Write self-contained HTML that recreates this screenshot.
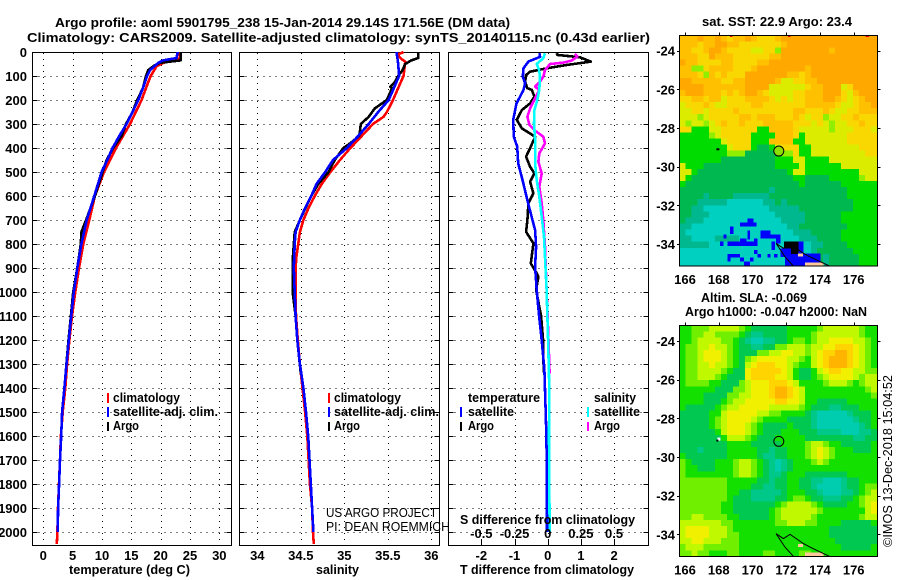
<!DOCTYPE html>
<html lang="en">
<head>
<meta charset="utf-8">
<title>Argo profile</title>
<style>
html,body{margin:0;padding:0;background:#fff;}
svg{display:block;}
text{font-family:"Liberation Sans",sans-serif;font-size:13px;fill:#000;font-weight:bold;}
.thin{font-weight:normal;}
</style>
</head>
<body>
<svg id="chart" xmlns="http://www.w3.org/2000/svg" width="900" height="580" viewBox="0 0 900 580">
<rect x="0" y="0" width="900" height="580" fill="#fff"/>
<text x="55" y="27" textLength="455" lengthAdjust="spacingAndGlyphs">Argo profile: aoml 5901795_238 15-Jan-2014 29.14S 171.56E (DM data)</text>
<text x="27" y="42" textLength="623" lengthAdjust="spacingAndGlyphs">Climatology: CARS2009. Satellite-adjusted climatology: synTS_20140115.nc (0.43d earlier)</text>

<g id="series-layer"></g>
<g id="map-layer"></g>

<text x="69" y="574" textLength="121" lengthAdjust="spacingAndGlyphs">temperature (deg C)</text>
<text x="316" y="574" textLength="43" lengthAdjust="spacingAndGlyphs">salinity</text>
<text x="460" y="574" textLength="174" lengthAdjust="spacingAndGlyphs">T difference from climatology</text>
<text x="460" y="524" textLength="175" lengthAdjust="spacingAndGlyphs">S difference from climatology</text>

<g>
<rect x="107" y="393" width="2" height="10" fill="#f00"/>
<text x="113" y="402" textLength="67" lengthAdjust="spacingAndGlyphs">climatology</text>
<rect x="107" y="407" width="2" height="10" fill="#00f"/>
<text x="113" y="416" textLength="105" lengthAdjust="spacingAndGlyphs">satellite-adj. clim.</text>
<rect x="107" y="422" width="2" height="9" fill="#000"/>
<text x="113" y="430" textLength="26" lengthAdjust="spacingAndGlyphs">Argo</text>
</g>
<g>
<rect x="328" y="393" width="2" height="10" fill="#f00"/>
<text x="334" y="402" textLength="67" lengthAdjust="spacingAndGlyphs">climatology</text>
<rect x="328" y="407" width="2" height="10" fill="#00f"/>
<text x="334" y="416" textLength="105" lengthAdjust="spacingAndGlyphs">satellite-adj. clim.</text>
<rect x="328" y="422" width="2" height="9" fill="#000"/>
<text x="334" y="430" textLength="26" lengthAdjust="spacingAndGlyphs">Argo</text>
</g>
<g>
<text x="468" y="402" textLength="72" lengthAdjust="spacingAndGlyphs">temperature</text>
<rect x="460" y="407" width="2" height="10" fill="#00f"/>
<text x="468" y="416" textLength="46" lengthAdjust="spacingAndGlyphs">satellite</text>
<rect x="460" y="422" width="2" height="9" fill="#000"/>
<text x="468" y="430" textLength="26" lengthAdjust="spacingAndGlyphs">Argo</text>
<text x="594" y="402" textLength="42" lengthAdjust="spacingAndGlyphs">salinity</text>
<rect x="587" y="407" width="2" height="10" fill="#0ff"/>
<text x="594" y="416" textLength="46" lengthAdjust="spacingAndGlyphs">satellite</text>
<rect x="587" y="422" width="2" height="9" fill="#f0f"/>
<text x="594" y="430" textLength="26" lengthAdjust="spacingAndGlyphs">Argo</text>
</g>

<text class="thin" x="326" y="517" textLength="111" lengthAdjust="spacingAndGlyphs">US ARGO PROJECT</text>
<text class="thin" x="326" y="531" textLength="124" lengthAdjust="spacingAndGlyphs">PI: DEAN ROEMMICH</text>

<text x="702" y="26" textLength="150" lengthAdjust="spacingAndGlyphs">sat. SST: 22.9 Argo: 23.4</text>
<text x="701" y="302" textLength="106" lengthAdjust="spacingAndGlyphs">Altim. SLA: -0.069</text>
<text x="685" y="316" textLength="182" lengthAdjust="spacingAndGlyphs">Argo h1000: -0.047 h2000: NaN</text>
<text class="thin" transform="translate(892,547) rotate(-90)" textLength="172" lengthAdjust="spacingAndGlyphs">©IMOS 13-Dec-2018 15:04:52</text>
</svg>

<script>
// ---------- axis tick labels ----------
const depthTicks = [0,100,200,300,400,500,600,700,800,900,1000,1100,1200,1300,1400,1500,1600,1700,1800,1900,2000];
const tempTicks = [0,5,10,15,20,25,30];
const salTicks = ['34','34.5','35','35.5','36'];
const dTTicks = [-2,-1,0,1,2];
const dSTicks = ['-0.5','-0.25','0','0.25','0.5'];
const lonTicks = [166,168,170,172,174,176];
const latTicks = [-24,-26,-28,-30,-32,-34];

// ---------- temperature profiles ----------
const climTempDepth = [0,25,30,45,60,100,125,200,300,400,500,600,700,800,900,1000,1100,1200,1300,1400,1500,1600,1700,1800,1900,2000,2050];
const climTempValue = [23.3,23.3,23,20.45,19.3,18.3,17.9,16.76,14.77,12.39,10.34,8.8,7.84,6.82,6.08,5.45,4.9,4.45,4.05,3.75,3.3,3.0,2.84,2.67,2.5,2.4,2.3];
const satTempDepth = [0,25,35,45,60,75,100,150,200,250,300,350,400,450,500,600,700,800,900,1000,1100,1200,1300,1400,1500,1600,1700,1800,1900,2000];
const satTempValue = [22.9,22.7,20.4,19.6,18.9,18.2,17.7,17,16.2,15.2,14.2,12.95,11.8,10.9,9.94,8.7,7.4,6.5,5.8,5.2,4.75,4.35,3.95,3.6,3.2,3.05,2.85,2.7,2.52,2.45];
const argoTempDepth = [0,35,45,55,75,100,150,200,250,300,350,400,450,500,600,700,750,800,900,1000,1100,1200,1340];
const argoTempValue = [23.4,23.4,19.9,19,17.9,17.5,17,16,15.2,14.1,13.35,11.9,10.8,10.1,8.8,7.3,6.5,6.4,5.8,5.1,4.7,4.3,3.8];

// ---------- salinity profiles ----------
const climSalDepth = [0,10,20,30,40,75,100,150,200,250,270,300,350,400,450,500,550,600,650,700,750,800,850,900,1000,1100,1200,1300,1400,1500,1600,1700,1800,1900,2000,2050];
const climSalValue = [35.68,35.62,35.63,35.66,35.70,35.69,35.68,35.62,35.56,35.49,35.45,35.33,35.20,35.07,34.95,34.84,34.74,34.66,34.59,34.53,34.49,34.47,34.45,34.44,34.44,34.445,34.465,34.49,34.52,34.55,34.575,34.59,34.605,34.63,34.64,34.65];
const satSalDepth = [0,25,50,100,125,150,200,250,300,350,400,450,500,550,600,650,700,750,800,900,1000,1100,1200,1300,1400,1500,1600,1700,1800,1900,2000];
const satSalValue = [35.6,35.61,35.62,35.63,35.6,35.57,35.51,35.39,35.28,35.16,35.03,34.87,34.78,34.68,34.62,34.55,34.49,34.44,34.43,34.42,34.43,34.44,34.46,34.49,34.53,34.56,34.585,34.6,34.615,34.63,34.645];
const argoSalDepth = [0,25,35,50,75,100,125,145,150,200,235,270,300,330,350,380,400,450,500,550,600,700,750,850,900,1000,1100,1200,1340];
const argoSalValue = [35.85,35.85,35.77,35.70,35.67,35.62,35.58,35.53,35.55,35.49,35.35,35.28,35.19,35.18,35.17,35.07,34.99,34.89,34.82,34.70,34.62,34.49,34.43,34.41,34.406,34.406,34.44,34.46,34.5];

// ---------- differences from climatology ----------
const satDTDepth = [5,20,40,68,103,130,158,186,214,249,283,353,394,464,533,630,742,811,894,992,1100,1200,1325,1500,1600,1700,1800,2000];
const satDTValue = [-0.25,-0.23,-0.58,-0.73,-0.75,-0.68,-0.73,-0.83,-0.94,-0.99,-1.04,-1.02,-0.92,-0.89,-0.76,-0.59,-0.38,-0.35,-0.38,-0.33,-0.26,-0.18,-0.10,-0.06,-0.04,-0.03,-0.02,-0.02];
const argoDTDepth = [5,12,22,40,54,68,82,96,124,151,158,186,214,242,283,318,353,401,436,478,506,540,589,630,700,749,797,881,922,936,992,1100,1200,1335];
const argoDTValue = [0.27,0.29,0.97,1.30,0.57,-0.03,-0.53,-0.65,-0.68,-0.61,-0.48,-0.40,-0.53,-0.78,-0.93,-0.78,-0.38,-0.53,-0.65,-0.53,-0.40,-0.53,-0.43,-0.58,-0.61,-0.65,-0.43,-0.51,-0.33,-0.28,-0.35,-0.2,-0.14,-0.12];
const argoDSDepth = [8,19,36,44,50,75,103,124,144,158,193,235,269,304,328,353,381,422,457,506,561,631,700,811,922,992,1200,1340];
const argoDSValue = [0.206,0.224,0.18,0.118,0.018,-0.02,-0.033,-0.058,-0.095,-0.063,-0.095,-0.133,-0.153,-0.138,-0.095,-0.033,-0.02,-0.063,-0.07,-0.045,-0.063,-0.045,-0.033,-0.02,-0.013,-0.008,0.006,0.014];
const satDSDepth = [5,26,50,75,103,158,200,242,297,367,464,533,603,686,769,853,992,1200,1400,1600,1800,2000];
const satDSValue = [-0.02,-0.033,-0.083,-0.065,-0.058,-0.063,-0.078,-0.1,-0.103,-0.095,-0.095,-0.083,-0.063,-0.045,-0.028,-0.02,-0.008,0.003,0.012,0.01,0.012,0.015];

// ---------- map cell categories (33 columns x 38 rows, north to south) ----------
const sstRows = [
"AAAOAAOAYAA OAYYYAOOOOO OOOOOOOOOOO",
"AAAYAAOOAAY YYYYYYAOOOO OOOOOOOOOOO",
"AAYYAOOAYYY YLLYYGOOOOO OOOAOOOOOOO",
"AAAYYOAAAYY YYYYAAOOOOO OOOOOOOOOOO",
"OAAYYYYAAYY YYAAOOOOOOO OOOOOOOOOOO",
"AAGGYAAAAYY YAOOOOOOOOA OOOOOOOOOOO",
"AAAYGAYAYYY OOOOOOOAAYA OOOOOOOOOOO",
"OOAAAAAYYAA OOOOOALLYYA AOOOOOOOOOO",
"OOOOAAAAAAA OOOOLLLLLLY AAOOOLYOOOO",
"AOOOAAAYAYA OOAYLLLLYYA AAOOOYLAOOO",
"YYAAYAALYYY AAAAYLYLYYA AAOOAYLYAOO",
"LYYYAYLLYYY YAAYYYYYYYA AAAAYLLYAAO",
"LLYYLYYYYAY YYYYYYYYAAY YYAYLLYYAAA",
"LLLGLYYYYYA AYAAAYYYAYL YYGLLYYAYYY",
"LGLLGLYAYYA YYYAAAAAYYY LYLGLLYYAYY",
"YYgggLLYYYY YYggAAAAYLL LLLGLLLYYYL",
"gggggGLYYYY YggggAAAYgL LLLLLLYYYYY",
"gggggggLYYY YgggAAAAggL LLLLLLYYYYY",
"ggggggggLYY YgddgLYYYgg LLLLLLLLYYY",
"ggggggggGGG ddddddGGYgg LLLLLLLLLYY",
"gggggggdddd dddddgggLLg gggLLLLLLLL",
"Lgggddddddd dddddggggLg gggggLLLLLL",
"LLgdddddddd dddddddgLLg ggggggggLLL",
"Lgddddddddd ddddddddggd dddgggggGLL",
"gdddddddddd dddddddddgd dddddgggggg",
"ddddddddddd ddddtdddddd ddddddggggg",
"ddddtddddtt ttttddddddd ddddddggggg",
"dddtttttccc cccttdtdddd dddddddgggg",
"ddttccccccc cccctttttdd dddddddgggg",
"ddtttcccccc ccccctttttd dddddgggggg",
"dtttccccccc ccccccttttd dddddgggggg",
"ttccccccccc cccccccttdd ddddddggggg",
"tcccccccccc ccccccccttt dddddgggggg",
"ttccccttttc ccccccccctt tddddgggggg",
"tttttcccccc ccccccccccc ttddddggggg",
"ccccccccccc ccccccccccc tddddddgggg",
"ccccccccccc ccccccccccc cdtdddddggg",
"ccccccccccc ccccccccccc cdtdddddggg"
];
const slaRows = [
"ggGGGLLLLLG gddddddgggg gGLLLLLLGgg",
"ggGGLLGGGGg dttddddgggg GLLLLLLLGgg",
"ggGLLLLGGgd tccttddgGGg GLLYYYYLLGg",
"gGGLLYLLGgd dttddGGLLLG LLYYAAAYLGg",
"gGGLYYYLGgd ddGGLLYYLLG LYAAOOAYLGg",
"gGGLYYYLGgd GLYYYYYLLGg LYAOOOAYLGg",
"gGGLLYLLGgd LYAAAYYLGgg LYAOOOAYLGg",
"gGGLLLLGgdd YAAAAAYLgdd gLYAAYYLLGG",
"gGGLLLGgddd YAAAAYYLgdd gGLYYYYLGLL",
"gGGGGggdddG LYYYAAAYLgg ggGLLLGgGLL",
"ggggggdddGG LYYYAOOAYLg gggggggggGL",
"ggggddddGGL LYYYAOOAYLg ggggggggggG",
"ggggdddgGLL YYYYYAAYYLg gdddddggggg",
"gdddddgGLLY YYYYLLLLLGg dddttdddggg",
"dddddggLYYY YYLLGGggggd tccccctdddg",
"dddddgGLYYY YLGggggdddd tcccccctddg",
"dddddgGLYYY LGgddddgddd tccccccctdg",
"ddddddgLYYY LGgdddgggdd dttttcccttd",
"dddddddgLLL Ggdddgggggd dddddddttdd",
"ddddddddggg gdddddggggG LLGggdddddg",
"dddtddddggg ggddtddgggG LYLGgggdddg",
"gdddddddggg ggdttddgggG LYLGggggggg",
"GgddddgggGL LGgdtctdggg GLGgggggggg",
"GggdddgggGL LGgdtctdggg ggggggggggg",
"GggggggggGL LGgdttdgggd ddddddggggg",
"GGGGGGGGggg ggddtddggdd ttccctddggg",
"GGGGGGGGggg gddttddggdd tcccctddgGG",
"GGGGGGGGggd dtttttdgggd dtcccttdgGL",
"GGGGGGGGgdd dttttddgGGg ddtttddgGLL",
"GGGGGGGggdd dddddgGLLLL GgddddggGLY",
"GGGGGGGggdd ddddgGLLLLL LGgggggggLY",
"GGLLGGGGggd ddddgGLLLLL GgggggggGLL",
"LLLLLLLGGgg gggggGGLLLG Gggggdddddg",
"LYYYYLLLGgg ggggggggggg gggdddddddd",
"LYYYYLLLGGg ggggggggggg gggdddddddd",
"LLYYLLLGGGg ggggggggggg ggggddddddd",
"GLLLGGGGGGg ggggggggggg gggggdddddg",
"GGLGGgggGGg gggGGggggGG ggggggggggg"
];
// SST flagged patches: west lon, north lat, east lon, south lat
const sstBluePatches = [
[169.70,-32.69,170.05,-32.90],[169.26,-32.90,170.25,-33.10],[168.67,-33.10,168.87,-33.48],
[170.49,-33.31,171.08,-33.72],[171.08,-33.52,171.67,-33.72],[169.70,-33.31,169.85,-33.76],
[168.27,-33.52,168.47,-33.72],[168.51,-33.88,170.29,-34.09],[168.08,-33.88,168.27,-34.09],
[169.26,-33.72,169.66,-33.88],[170.09,-33.72,170.29,-33.88],[171.40,-33.72,171.67,-33.97],
[171.12,-33.88,171.32,-34.31],[171.87,-33.88,173.02,-34.31],[171.67,-34.22,173.02,-34.66],
[171.93,-34.66,173.12,-35.14],[173.02,-34.48,174.04,-35.0],[168.51,-34.52,169.26,-34.69],
[168.51,-34.69,168.71,-34.91],[169.26,-34.69,169.50,-34.91],[169.85,-34.69,170.05,-34.91],
[169.50,-34.91,169.85,-35.12],[170.29,-34.52,170.49,-34.69],[170.09,-34.31,170.29,-34.52],
[170.88,-34.52,171.08,-34.69],[171.28,-34.52,171.47,-34.69]
];
const sstBlackPatches = [[171.87,-33.88,172.72,-34.22],[172.28,-34.22,172.72,-34.52]];
const sstRedPatches = [[168.67,-23.2,168.82,-23.3],[172.12,-23.2,172.26,-23.3],[176.69,-23.2,176.9,-23.3]];
const landPatches = [[173.1,-34.95,174.2,-35.14],[172.7,-34.5,173.0,-34.65]];
const coastWestLon = [171.40,171.93,172.42];
const coastWestLat = [-33.97,-34.66,-35.14];
const coastNorthLon = [171.40,171.83,172.23,173.02,173.41,174.0,174.56];
const coastNorthLat = [-33.97,-34.22,-34.0,-34.48,-34.66,-34.91,-35.14];
const floatLon = 171.56;
const floatLat = -29.14;
const islandLon = 167.92;
const islandLat = -29.1;

// ---------- colours ----------
const sstColors = {O:'#ffa800',A:'#ffc000',Y:'#f8d800',L:'#dcec00',G:'#90ee00',g:'#00dc00',d:'#00b850',t:'#00b890',c:'#00d0c0'};
const slaColors = {O:'#ffb400',A:'#ffd400',Y:'#f0f000',L:'#c0f800',G:'#70f000',g:'#14e000',d:'#00c850',t:'#00c888',c:'#00ccb0'};

// ---------- scales ----------
const yDepth = d => 52 + d * 0.24;
const xTemp = t => 43.3 + t * 5.867;
const xSal = s => 257.3 + (s - 34) * 87;
const xDT = t => 547.7 + t * 33.2;
const xDS = s => 547.7 + s * 132.7;
const lonX = lon => 685 + (lon - 166) * 16.87;
const latY = (lat, top) => top + 15.4 + (-24 - lat) * 19.33;

const SVGNS = 'http://www.w3.org/2000/svg';
const seriesLayer = document.getElementById('series-layer');
const mapLayer = document.getElementById('map-layer');

function make(tag, name, parent, attrs) {
  const el = document.createElementNS(SVGNS, tag);
  for (const k in attrs) el.setAttribute(k, attrs[k]);
  
  
  parent.appendChild(el);
  return el;
}
function label(name, parent, x, y, str, anchor) {
  const el = make('text', name, parent, {x: x, y: y, 'text-anchor': anchor});
  el.textContent = str;
  return el;
}
function line(name, parent, x1, y1, x2, y2, dash) {
  const attrs = {x1: x1, y1: y1, x2: x2, y2: y2, stroke: '#000', 'stroke-width': 1, 'shape-rendering': 'crispEdges'};
  if (dash) attrs['stroke-dasharray'] = dash;
  return make('line', name, parent, attrs);
}
function profile(name, parent, depths, values, xFn, color) {
  const pts = depths.map((d, i) => xFn(values[i]).toFixed(1) + ',' + yDepth(d).toFixed(1)).join(' ');
  return make('polyline', name, parent, {points: pts, fill: 'none', stroke: color, 'stroke-width': 2.6, 'stroke-linejoin': 'round', 'shape-rendering': 'crispEdges'});
}
function frame(name, parent, left, right) {
  const g = make('g', name, parent, {});
  const top = 52.5, bottom = 545.5;
  depthTicks.forEach(d => {
    const y = Math.round(yDepth(d)) + 0.5;
    line('depth-grid-line', g, left, y, right, y, '1 5');
    line('depth-tick-left', g, left, y, left + 5, y);
    line('depth-tick-right', g, right - 5, y, right, y);
  });
  make('rect', name + '-frame', g, {x: left, y: top, width: right - left, height: bottom - top, fill: 'none', stroke: '#000', 'stroke-width': 1, 'shape-rendering': 'crispEdges'});
  return g;
}
function vGrid(name, parent, x) {
  const px = Math.round(x) + 0.5;
  line(name, parent, px, 53, px, 545, '1 5');
}

// ---------- panel 1: temperature ----------
const p1 = frame('temperature-panel', seriesLayer, 32.5, 231.5);
tempTicks.forEach(t => {
  vGrid('temperature-grid-line', p1, xTemp(t));
  label('temperature-tick-label', seriesLayer, xTemp(t), 560, String(t), 'middle');
});
depthTicks.forEach(d => {
  label('depth-tick-label', seriesLayer, 27, yDepth(d) + 5, String(d), 'end');
});
profile('temperature-climatology-line', p1, climTempDepth, climTempValue, xTemp, '#f00');
profile('temperature-argo-line', p1, argoTempDepth, argoTempValue, xTemp, '#000');
profile('temperature-satellite-line', p1, satTempDepth, satTempValue, xTemp, '#00f');

// ---------- panel 2: salinity ----------
const p2 = frame('salinity-panel', seriesLayer, 239.5, 439.5);
salTicks.forEach(s => {
  vGrid('salinity-grid-line', p2, xSal(+s));
  label('salinity-tick-label', seriesLayer, xSal(+s), 560, s, 'middle');
});
profile('salinity-climatology-line', p2, climSalDepth, climSalValue, xSal, '#f00');
profile('salinity-argo-line', p2, argoSalDepth, argoSalValue, xSal, '#000');
profile('salinity-satellite-line', p2, satSalDepth, satSalValue, xSal, '#00f');

// ---------- panel 3: differences ----------
const p3 = frame('difference-panel', seriesLayer, 448.5, 648.5);
dTTicks.forEach(t => {
  vGrid('t-difference-grid-line', p3, xDT(t));
  label('t-difference-tick-label', seriesLayer, xDT(t), 560, String(t), 'middle');
  const px = Math.round(xDT(t)) + 0.5;
  line('t-difference-tick', p3, px, 540, px, 545);
});
dSTicks.forEach(s => {
  label('s-difference-tick-label', seriesLayer, xDS(+s), 538, s, 'middle');
});
profile('t-difference-argo-line', p3, argoDTDepth, argoDTValue, xDT, '#000');
profile('s-difference-argo-line', p3, argoDSDepth, argoDSValue, xDS, '#f0f');
profile('t-difference-satellite-line', p3, satDTDepth, satDTValue, xDT, '#00f');
profile('s-difference-satellite-line', p3, satDSDepth, satDSValue, xDS, '#0ff');

// ---------- maps ----------
const lonW = 165.66, lonE = 177.39, latN = -23.2, latS = -35.14;
const nCols = 33, nRows = 38;
function cells(name, parent, rows, colors, top) {
  rows.forEach((row, r) => {
    const chars = row.replace(/ /g, '');
    for (let c = 0; c < chars.length && c < nCols; c++) {
      const x0 = lonX(lonW + c * (lonE - lonW) / nCols);
      const x1 = lonX(lonW + (c + 1) * (lonE - lonW) / nCols);
      const y0 = latY(latN - r * (latN - latS) / nRows, top);
      const y1 = latY(latN - (r + 1) * (latN - latS) / nRows, top);
      make('rect', name, parent, {x: x0.toFixed(1), y: y0.toFixed(1), width: (x1 - x0 + 0.4).toFixed(1), height: (y1 - y0 + 0.4).toFixed(1), fill: colors[chars[c]], 'shape-rendering': 'crispEdges'});
    }
  });
}
function patches(name, parent, list, color, top) {
  list.forEach(p => {
    make('rect', name, parent, {x: lonX(p[0]).toFixed(1), y: latY(p[1], top).toFixed(1), width: (lonX(p[2]) - lonX(p[0])).toFixed(1), height: (latY(p[3], top) - latY(p[1], top)).toFixed(1), fill: color, 'shape-rendering': 'crispEdges'});
  });
}
function coast(name, parent, lons, lats, top) {
  const pts = lons.map((lon, i) => lonX(lon).toFixed(1) + ',' + latY(lats[i], top).toFixed(1)).join(' ');
  make('polyline', name, parent, {points: pts, fill: 'none', stroke: '#000', 'stroke-width': 1});
}
function mapAxes(name, parent, top) {
  const bottom = top + 230.9;
  make('rect', name + '-frame', parent, {x: 679.5, y: top, width: 198, height: 230.9, fill: 'none', stroke: '#000', 'stroke-width': 1, 'shape-rendering': 'crispEdges'});
  lonTicks.forEach(lon => {
    const px = Math.round(lonX(lon)) + 0.5;
    line('longitude-tick', parent, px, top - 3, px, top);
    label('longitude-tick-label', parent, lonX(lon), bottom + 18, String(lon), 'middle');
  });
  latTicks.forEach(lat => {
    const py = Math.round(latY(lat, top)) + 0.5;
    line('latitude-tick-left', parent, 677, py, 679.5, py);
    line('latitude-tick-right', parent, 877.5, py, 880.5, py);
    label('latitude-tick-label', parent, 675, latY(lat, top) + 5, String(lat), 'end');
  });
}

const sstTop = 35.3, slaTop = 325.6;
const m1 = make('g', 'sst-map', mapLayer, {});
cells('sst-cell', m1, sstRows, sstColors, sstTop);
patches('sst-flagged-patch', m1, sstBluePatches, '#0000ff', sstTop);
patches('sst-land-mask-patch', m1, sstBlackPatches, '#000', sstTop);
patches('sst-edge-patch', m1, sstRedPatches, '#f00000', sstTop);
patches('land-patch', m1, landPatches, '#ffc89a', sstTop);
coast('coastline-west', m1, coastWestLon, coastWestLat, sstTop);
coast('coastline-north', m1, coastNorthLon, coastNorthLat, sstTop);
make('rect', 'island-marker', m1, {x: lonX(islandLon) - 1, y: latY(islandLat, sstTop) - 1, width: 3, height: 2, fill: '#000'});
make('circle', 'float-position-marker', m1, {cx: lonX(floatLon), cy: latY(floatLat, sstTop) + 1, r: 5, fill: '#8be000', stroke: '#000', 'stroke-width': 1});
mapAxes('sst-map', m1, sstTop);

const m2 = make('g', 'sla-map', mapLayer, {});
cells('sla-cell', m2, slaRows, slaColors, slaTop);
patches('land-patch', m2, landPatches, '#ffc89a', slaTop);
coast('coastline-west', m2, coastWestLon, coastWestLat, slaTop);
coast('coastline-north', m2, coastNorthLon, coastNorthLat, slaTop);
make('rect', 'island-marker-white', m2, {x: lonX(islandLon), y: latY(islandLat, slaTop) - 2, width: 3, height: 3, fill: '#fff'});
make('rect', 'island-marker', m2, {x: lonX(islandLon) - 1, y: latY(islandLat, slaTop), width: 2, height: 2, fill: '#000'});
make('circle', 'float-position-marker', m2, {cx: lonX(floatLon), cy: latY(floatLat, slaTop) + 1, r: 5, fill: 'none', stroke: '#000', 'stroke-width': 1});
mapAxes('sla-map', m2, slaTop);
</script>
</body>
</html>
